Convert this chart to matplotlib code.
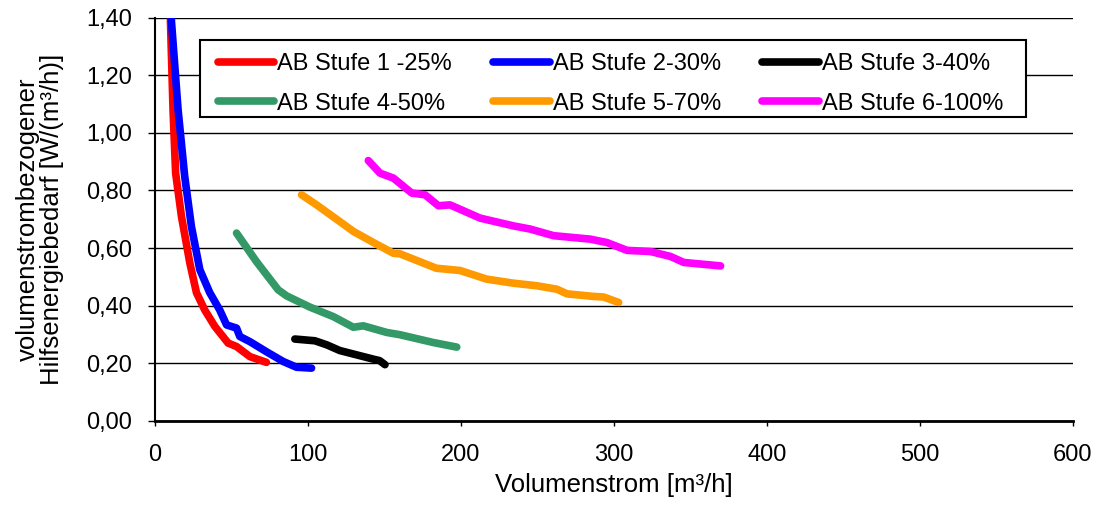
import matplotlib.pyplot as plt
from matplotlib.patches import Rectangle
from matplotlib.ticker import FuncFormatter

plt.rcParams['font.family'] = ['Liberation Sans', 'DejaVu Sans']

# Volumenstrom [m³/h] und Hilfsenergiebedarf [W/(m³/h)] je Stufe
x1 = [10.3, 12, 13.7, 17.5, 22.9, 27.3, 32.7, 39.3, 48, 53.5, 62.2, 73]
y1 = [1.39, 1.08, 0.86, 0.71, 0.55, 0.445, 0.385, 0.328, 0.27, 0.258, 0.223, 0.203]

x2 = [10.5, 15.3, 19.6, 24, 29.5, 36, 42.5, 47, 53.5, 55.6, 62.2, 73, 84, 92.7, 102.5]
y2 = [1.42, 1.08, 0.85, 0.675, 0.525, 0.445, 0.385, 0.333, 0.322, 0.293, 0.275, 0.24, 0.206, 0.186, 0.183]

x3 = [91.6, 104.7, 112.4, 121, 132, 143, 147, 150.5]
y3 = [0.284, 0.278, 0.264, 0.244, 0.229, 0.214, 0.209, 0.195]

x4 = [53.5, 66.5, 80.7, 86.2, 101.4, 116.7, 129.8, 136.3, 151.6, 160.3, 182, 197.4]
y4 = [0.652, 0.553, 0.455, 0.434, 0.395, 0.362, 0.325, 0.33, 0.307, 0.299, 0.272, 0.256]

x5 = [96, 105.8, 121, 129.8, 143, 156, 160.3, 184, 199.6, 217, 234.5, 249.8, 262.9, 269.4, 286.8, 293.4, 303.2]
y5 = [0.785, 0.75, 0.692, 0.658, 0.619, 0.582, 0.58, 0.53, 0.522, 0.492, 0.478, 0.469, 0.457, 0.441, 0.432, 0.43, 0.411]

x6 = [139.6, 147.3, 156, 168, 176.7, 185.4, 193, 212.7, 234.5, 245.4, 260.7, 284.7, 295.6, 308.7, 324, 337, 345.8, 369.8]
y6 = [0.904, 0.86, 0.843, 0.791, 0.785, 0.747, 0.75, 0.704, 0.677, 0.666, 0.643, 0.631, 0.619, 0.592, 0.588, 0.571, 0.55, 0.538]

labels = ['AB Stufe 1 -25%', 'AB Stufe 2-30%', 'AB Stufe 3-40%',
          'AB Stufe 4-50%', 'AB Stufe 5-70%', 'AB Stufe 6-100%']
colors = ['#ff0000', '#0000ff', '#000000', '#339966', '#ff9900', '#ff00ff']

fig, ax = plt.subplots(figsize=(10.97, 5.07), dpi=100)
fig.subplots_adjust(left=0.141, right=0.978, top=0.965, bottom=0.17)

series = [(x1, y1), (x2, y2), (x3, y3), (x4, y4), (x5, y5), (x6, y6)]
handles = []
for (xs, ys), lab, c in zip(series, labels, colors):
    h, = ax.plot(xs, ys, color=c, lw=5.5, label=lab, solid_capstyle='round',
                 solid_joinstyle='round')
    handles.append(h)

ax.set_xlim(0, 600)
ax.set_ylim(0, 1.40)
ax.set_xticks(range(0, 601, 100))
ax.set_yticks([i * 0.2 for i in range(8)])
ax.yaxis.set_major_formatter(FuncFormatter(lambda v, p: f'{v:.2f}'.replace('.', ',')))
ax.grid(axis='y', color='black', lw=1)
ax.set_axisbelow(True)
ax.spines['top'].set_visible(False)
ax.spines['right'].set_visible(False)
ax.spines['left'].set_linewidth(1.5)
ax.spines['bottom'].set_linewidth(2)
ax.tick_params(axis='y', labelsize=17, length=5, width=1, pad=11)
ax.tick_params(axis='x', labelsize=17, length=3.5, width=1, pad=13)

ax.set_xlabel('Volumenstrom [m³/h]', fontsize=18.5, labelpad=5)
ax.set_ylabel('volumenstrombezogener\nHilfsenergiebedarf [W/(m³/h)]', fontsize=18.5,
              labelpad=16, linespacing=1.0)

# Excel-Legende: zeilenweise Reihenfolge, Rahmen separat gezeichnet
ax.add_patch(Rectangle((0.049, 0.754), 0.9, 0.191, transform=ax.transAxes,
                       facecolor='white', edgecolor='black', lw=1.5, zorder=4))
order = [0, 3, 1, 4, 2, 5]
leg = ax.legend([handles[i] for i in order], [labels[i] for i in order], ncol=3,
                loc='upper left', bbox_to_anchor=(0.0687, 0.913),
                fontsize=17, frameon=False, handlelength=2.4, handletextpad=0.12,
                borderpad=0, labelspacing=0.75, columnspacing=1.75,
                borderaxespad=0)
leg.set_zorder(5)

fig.savefig('out.png')
